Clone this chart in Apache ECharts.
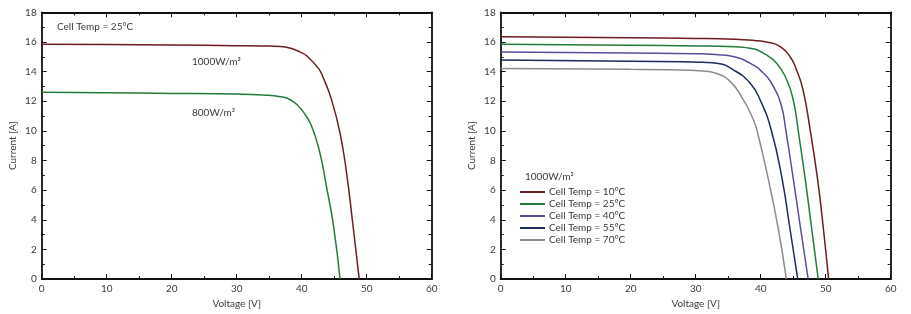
<!DOCTYPE html>
<html>
<head>
<meta charset="utf-8">
<script src="https://cdn.jsdelivr.net/npm/echarts@6/dist/echarts.min.js"></script>
<style>
  html, body { margin: 0; padding: 0; background: #fff; }
  #chart { width: 911px; height: 314px; }
</style>
</head>
<body>
<div id="chart"></div>
<script>
// left panel: irradiance curves at 25°C
let volt1000 = [0, 10, 20, 30, 34, 36.7, 38.3, 39.7, 40.8, 42.6, 43.3, 44.6, 45.9, 46.9, 47.9, 48.85];
let amp1000  = [15.85, 15.82, 15.79, 15.75, 15.73, 15.69, 15.57, 15.33, 15.05, 14.2, 13.6, 12.09, 9.85, 7.17, 3.58, 0];
let volt800  = [0, 10, 20, 30, 34, 36.7, 38.7, 40.2, 41.5, 42.8, 43.8, 44.9, 45.9];
let amp800   = [12.6, 12.57, 12.53, 12.48, 12.42, 12.31, 11.97, 11.3, 10.35, 8.5, 6.27, 3.58, 0];

// right panel: cell temperature curves at 1000W/m²
let tempNames = ['Cell Temp = 10°C', 'Cell Temp = 25°C', 'Cell Temp = 40°C', 'Cell Temp = 55°C', 'Cell Temp = 70°C'];
let volt10 = [0, 20, 30, 36, 39, 40.9, 43.0, 44.5, 45.5, 46.5, 47.6, 48.75, 49.65, 50.45];
let amp10  = [16.35, 16.29, 16.24, 16.18, 16.1, 16.0, 15.69, 15.02, 14.13, 12.79, 10.09, 6.74, 3.38, 0];
let volt25 = [0, 20, 30, 36, 38.35, 40.4, 42.45, 44.0, 45.0, 45.75, 46.85, 47.85, 48.85];
let amp25  = [15.85, 15.77, 15.73, 15.67, 15.58, 15.25, 14.57, 13.45, 12.11, 10.09, 6.74, 3.38, 0];
let volt40 = [0, 20, 30, 33.5, 35.74, 38.35, 40.4, 41.94, 43.2, 43.85, 45.02, 46.15, 47.3];
let amp40  = [15.32, 15.25, 15.21, 15.14, 15.02, 14.57, 13.9, 13.0, 11.66, 10.09, 6.74, 3.38, 0];
let volt55 = [0, 20, 28, 31, 33.23, 35.78, 38.35, 39.89, 41.6, 43.3, 44.51, 45.7];
let amp55  = [14.78, 14.7, 14.67, 14.63, 14.57, 14.12, 13.23, 12.11, 10.09, 6.74, 3.38, 0];
let volt70 = [0, 20, 26, 31, 33, 35.28, 37.32, 38.86, 39.4, 41.17, 42.71, 43.95];
let amp70  = [14.2, 14.15, 14.12, 14.04, 13.9, 13.34, 12.11, 10.77, 10.09, 6.74, 3.38, 0];

let xTicks = [0, 10, 20, 30, 40, 50, 60];
let yTicks = [0, 2, 4, 6, 8, 10, 12, 14, 16, 18];

let pairs = function(xs, ys){
    return xs.map((v, i) => [v, ys[i]]);
};

let FONT = 'Lato';
let TXT = '#3a3a3a';

let makeX = function(grid, pos, labels){
    return {
        type: 'value', gridIndex: grid, position: pos,
        min: xTicks[0], max: xTicks[xTicks.length - 1], interval: xTicks[1] - xTicks[0],
        name: labels ? 'Voltage [V]' : '', nameLocation: 'middle', nameGap: 14,
        nameTextStyle: { fontFamily: FONT, fontSize: 10, color: TXT },
        axisLine: { show: true, onZero: false, lineStyle: { color: '#111', width: 1.8 } },
        axisTick: { show: true, inside: true, length: 5, lineStyle: { color: '#111', width: 1 } },
        minorTick: { show: true, splitNumber: 2, length: 3, lineStyle: { color: '#111', width: 1 } },
        axisLabel: { show: labels, margin: 5, fontFamily: FONT, fontSize: 10, color: TXT },
        splitLine: { show: false }
    };
};

let makeY = function(grid, pos, labels){
    return {
        type: 'value', gridIndex: grid, position: pos,
        min: yTicks[0], max: yTicks[yTicks.length - 1], interval: yTicks[1] - yTicks[0],
        name: labels ? 'Current [A]' : '', nameLocation: 'middle', nameGap: 24,
        nameTextStyle: { fontFamily: FONT, fontSize: 10, color: TXT },
        axisLine: { show: true, onZero: false, lineStyle: { color: '#111', width: 1.8 } },
        axisTick: { show: true, inside: true, length: 5, lineStyle: { color: '#111', width: 1 } },
        minorTick: { show: true, splitNumber: 2, length: 3, lineStyle: { color: '#111', width: 1 } },
        axisLabel: { show: labels, margin: 5, fontFamily: FONT, fontSize: 10, color: TXT },
        splitLine: { show: false }
    };
};

let line = function(name, data, color, xi, yi){
    return {
        name: name, type: 'line', data: data,
        xAxisIndex: xi, yAxisIndex: yi,
        showSymbol: false, symbol: 'none',
        smooth: 0.5,
        lineStyle: { color: color, width: 1.5 },
        itemStyle: { color: color },
        silent: true, animation: false
    };
};

let colors = ['#6e1c22', '#247a3c', '#5b4d9c', '#1c2a5c', '#8c8c8c'];

let chart = echarts.init(document.getElementById('chart'));
chart.setOption({
    animation: false,
    grid: [
        { left: 41.7, width: 390, top: 12.3, height: 268 },
        { left: 500.7, width: 390, top: 12.3, height: 268 }
    ],
    xAxis: [makeX(0, 'bottom', true), makeX(0, 'top', false), makeX(1, 'bottom', true), makeX(1, 'top', false)],
    yAxis: [makeY(0, 'left', true), makeY(0, 'right', false), makeY(1, 'left', true), makeY(1, 'right', false)],
    legend: {
        data: tempNames,
        orient: 'vertical', left: 515, top: 181,
        icon: 'rect', itemWidth: 25, itemHeight: 2, itemGap: 0,
        textStyle: { fontFamily: FONT, fontSize: 10, color: TXT, lineHeight: 12, padding: [0, 0, 0, -1] },
        selectedMode: false
    },
    graphic: [
        { type: 'text', left: 57, top: 22, style: { text: 'Cell Temp = 25°C', font: '10px Lato', fill: TXT } },
        { type: 'text', left: 192, top: 57, style: { text: '1000W/m²', font: '10px Lato', fill: TXT } },
        { type: 'text', left: 192, top: 108, style: { text: '800W/m²', font: '10px Lato', fill: TXT } },
        { type: 'text', left: 525, top: 172, style: { text: '1000W/m²', font: '10px Lato', fill: TXT } }
    ],
    series: [
        line('1000W/m²', pairs(volt1000, amp1000), colors[0], 0, 0),
        line('800W/m²', pairs(volt800, amp800), colors[1], 0, 0),
        line(tempNames[0], pairs(volt10, amp10), colors[0], 2, 2),
        line(tempNames[1], pairs(volt25, amp25), colors[1], 2, 2),
        line(tempNames[2], pairs(volt40, amp40), colors[2], 2, 2),
        line(tempNames[3], pairs(volt55, amp55), colors[3], 2, 2),
        line(tempNames[4], pairs(volt70, amp70), colors[4], 2, 2)
    ]
});
</script>
</body>
</html>
